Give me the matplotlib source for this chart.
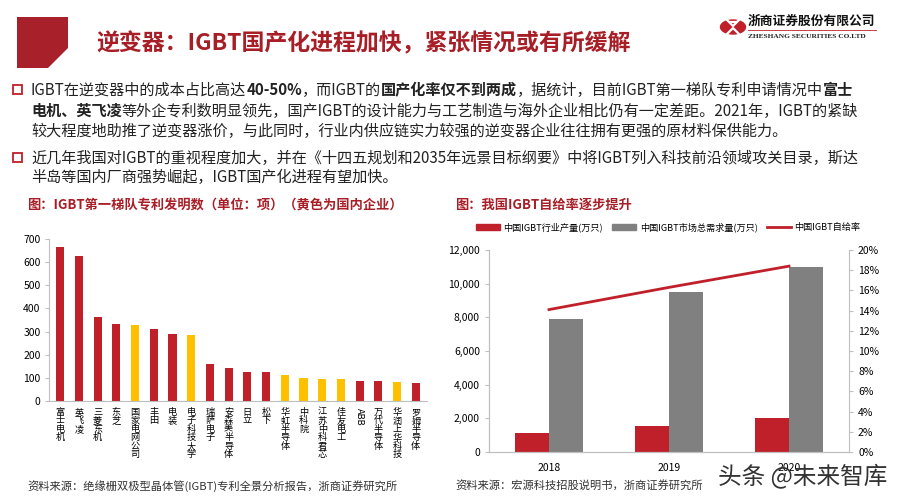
import numpy as np
import matplotlib
matplotlib.use("Agg")
import matplotlib.pyplot as plt
from matplotlib.patches import Polygon, Circle, Patch
from matplotlib.lines import Line2D

plt.rcParams['font.family'] = ['Noto Sans CJK SC', 'DejaVu Sans']

# left chart: patents of first-tier IGBT companies
companies = ['富士电机', '英飞凌', '三菱东机', '东芝', '国家电网公司', '丰田', '电装',
             '电子科技大学', '瑞萨电子', '安森美半导体', '日立', '松下', '华虹半导体',
             '中科院', '江苏中科君芯', '佳友电工', 'ABB', '万代半导体', '华润上华科技',
             '罗姆半导体']
patents = [665, 625, 362, 333, 330, 310, 288, 287, 162, 141, 126, 124, 114,
           100, 96, 93, 88, 87, 80, 78]
domestic = [0, 0, 0, 0, 1, 0, 0, 1, 0, 0, 0, 0, 1, 1, 1, 1, 0, 0, 1, 0]

# right chart: IGBT self-sufficiency
years = ['2018', '2019', '2020']
output = [1100, 1550, 2000]
demand = [7900, 9500, 11000]
ratio = [14.1, 16.3, 18.4]

RED = '#C0202A'
YELLOW = '#FFC000'
GRAY = '#808080'
TITLE_RED = '#A81E26'

W, H = 900, 504
fig = plt.figure(figsize=(9, 5.04), dpi=100)


def px(x, y):
    return x / W, 1 - y / H


# header
fig.patches.append(Polygon([px(17, 17), px(68, 17), px(68, 48), px(48, 68), px(17, 68)],
                           closed=True, transform=fig.transFigure, color='#A8202A', lw=0))
fig.text(*px(96, 44), '逆变器：IGBT国产化进程加快，紧张情况或有所缓解', fontsize=16.5,
         fontweight='bold', color=TITLE_RED, va='center')

# logo
fig.patches.append(Circle(px(733, 27), 12.5 / W, transform=fig.transFigure, color='#C0202A'))
for xs, ys in [([727, 733, 739], [20, 26, 20]), ([727, 733, 739], [34, 28, 34]),
               ([730, 736], [22, 22])]:
    fig.lines.append(Line2D([v / W for v in xs], [1 - v / H for v in ys],
                            transform=fig.transFigure, color='white', lw=1.6))
fig.text(*px(748, 21), '浙商证券股份有限公司', fontsize=9.2, fontweight='bold', color='#111111',
         va='center')
fig.lines.append(Line2D([748 / W, 876 / W], [1 - 30 / H, 1 - 30 / H], transform=fig.transFigure,
                        color='#C0202A', lw=0.6))
fig.text(*px(748, 37), 'ZHESHANG SECURITIES CO.LTD', fontsize=5.3, color='#222222', va='center',
         family='Liberation Serif', fontweight='bold')

# bullet text with bold segments
renderer = fig.canvas.get_renderer()


def rich_line(x, y, segments, size=10.9):
    for seg, bold in segments:
        t = fig.text(*px(x, y), seg, fontsize=size, color='#222222', va='center',
                     fontweight='bold' if bold else 'normal')
        bb = t.get_window_extent(renderer)
        x += bb.width


def bullet(y):
    fig.patches.append(Polygon([px(13, y - 5), px(22, y - 5), px(22, y + 4), px(13, y + 4)],
                               closed=True, transform=fig.transFigure, fill=False,
                               edgecolor='#C0202A', lw=1.3))


bullet(90)
rich_line(31, 90, [('IGBT在逆变器中的成本占比高达', False), ('40-50%', True), ('，而IGBT的', False),
                   ('国产化率仅不到两成', True), ('，据统计，目前IGBT第一梯队专利申请情况中', False),
                   ('富士', True)])
rich_line(31, 111, [('电机、英飞凌', True),
                    ('等外企专利数明显领先，国产IGBT的设计能力与工艺制造与海外企业相比仍有一定差距。2021年，IGBT的紧缺', False)])
rich_line(31, 131, [('较大程度地助推了逆变器涨价，与此同时，行业内供应链实力较强的逆变器企业往往拥有更强的原材料保供能力。', False)])
bullet(158)
rich_line(31, 158, [('近几年我国对IGBT的重视程度加大，并在《十四五规划和2035年远景目标纲要》中将IGBT列入科技前沿领域攻关目录，斯达', False)])
rich_line(31, 177, [('半岛等国内厂商强势崛起，IGBT国产化进程有望加快。', False)])

# chart titles
fig.text(*px(27, 205), '图：IGBT第一梯队专利发明数（单位：项）（黄色为国内企业）', fontsize=9.5,
         fontweight='bold', color=TITLE_RED, va='center')
fig.text(*px(455, 205), '图：我国IGBT自给率逐步提升', fontsize=9.5,
         fontweight='bold', color=TITLE_RED, va='center')

# left chart
ax1 = fig.add_axes([49 / W, 1 - 401 / H, (427 - 49) / W, (401 - 239) / H])
x = np.arange(len(companies))
colors = [YELLOW if d else RED for d in domestic]
ax1.bar(x, patents, width=0.44, color=colors)
ax1.set_xlim(-0.6, len(companies) - 0.4)
ax1.set_ylim(0, 700)
ax1.set_yticks(range(0, 701, 100))
labels = [c if c.isascii() else '\n'.join(c) for c in companies]
ax1.set_xticks(x)
ax1.set_xticklabels(labels, fontsize=6.6, linespacing=0.92, va='top')
for lab, c in zip(ax1.get_xticklabels(), companies):
    if c.isascii():
        lab.set_rotation(270)
ax1.tick_params(axis='y', labelsize=7.5, length=3, color='#BFBFBF', pad=3)
ax1.tick_params(axis='x', length=0, pad=5)
for s in ['top', 'right']:
    ax1.spines[s].set_visible(False)
for s in ['left', 'bottom']:
    ax1.spines[s].set_color('#BFBFBF')

# right chart
ax2 = fig.add_axes([489 / W, 1 - 452 / H, (849 - 489) / W, (452 - 250) / H])
xr = np.arange(len(years))
bw = 0.285
ax2.bar(xr - bw / 2, output, width=bw, color=RED, label='中国IGBT行业产量(万只)')
ax2.bar(xr + bw / 2, demand, width=bw, color=GRAY, label='中国IGBT市场总需求量(万只)')
ax2.set_xlim(-0.5, len(years) - 0.5)
ax2.set_ylim(0, 12000)
ax2.set_yticks(range(0, 12001, 2000))
ax2.set_yticklabels([f'{v:,}' for v in range(0, 12001, 2000)])
ax2.set_xticks(xr)
ax2.set_xticklabels(years)
ax2.tick_params(axis='y', labelsize=7.5, length=3, color='#BFBFBF')
ax2.tick_params(axis='x', labelsize=7.5, length=0, pad=8)
ax3 = ax2.twinx()
ax3.plot(xr, ratio, color=RED, lw=2, label='中国IGBT自给率')
ax3.set_ylim(0, 20)
ax3.set_yticks(range(0, 21, 2))
ax3.set_yticklabels([f'{v}%' for v in range(0, 21, 2)])
ax3.tick_params(axis='y', labelsize=7.5, length=3, color='#BFBFBF')
for a in (ax2, ax3):
    a.spines['top'].set_visible(False)
    for s in ['left', 'right', 'bottom']:
        a.spines[s].set_color('#BFBFBF')
ax2.spines['right'].set_visible(False)

handles = [Patch(color=RED), Patch(color=GRAY), Line2D([], [], color=RED, lw=2)]
names = ['中国IGBT行业产量(万只)', '中国IGBT市场总需求量(万只)', '中国IGBT自给率']
fig.legend(handles, names, loc='center left', bbox_to_anchor=px(476, 227), ncol=3,
           frameon=False, fontsize=6.6, handlelength=2.6, handleheight=0.6,
           columnspacing=1.0, handletextpad=0.4, borderaxespad=0, borderpad=0)

# sources
fig.text(*px(27, 486), '资料来源：绝缘栅双极型晶体管(IGBT)专利全景分析报告，浙商证券研究所', fontsize=8.1,
         color='#333333', va='center')
fig.text(*px(455, 486), '资料来源：宏源科技招股说明书，浙商证券研究所', fontsize=8.1,
         color='#333333', va='center')
fig.text(*px(718, 476), '头条 @未来智库', fontsize=17, color='#333333', va='center')

fig.savefig('out.png', dpi=100)
